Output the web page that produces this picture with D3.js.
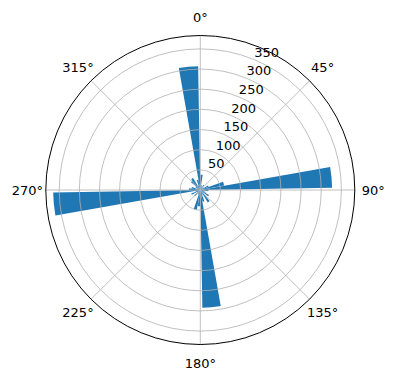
<!DOCTYPE html>
<html>
<head>
<meta charset="utf-8">
<script src="https://cdn.jsdelivr.net/npm/d3@7"></script>
<style>
  body { margin: 0; background: #fff; }
  svg { display: block; font-family: "DejaVu Sans", sans-serif; }
</style>
</head>
<body>
<div id="chart"></div>
<script>
// bin start angles (deg) and counts per bin
const binStart = [0, 10, 20, 30, 40, 50, 60, 70, 80, 90, 100, 110,
                  120, 130, 140, 150, 160, 170, 180, 190, 200, 210, 220, 230,
                  240, 250, 260, 270, 280, 290, 300, 310, 320, 330, 340, 350]
const counts = [38, 12, 8, 15, 6, 10, 22, 60, 327, 20, 8, 14,
                25, 10, 36, 12, 30, 292, 40, 50, 12, 8, 20, 10,
                24, 12, 365, 28, 22, 8, 14, 30, 35, 12, 26, 307]
const rTicks = [50, 100, 150, 200, 250, 300, 350]
const angleTicks = [0, 45, 90, 135, 180, 225, 270, 315]

const W = 396, H = 380
const cx = 200.3, cy = 190
const R = 154.5
const barWidth = 9 // degrees
const rad = d => d * Math.PI / 180

const r = d3.scaleLinear()
    .domain([0, d3.max(counts) * 1.05])
    .range([0, R])

const svg = d3.select('#chart').append('svg').attr('width', W).attr('height', H)
const g = svg.append('g').attr('transform', `translate(${cx},${cy})`)

const arc = d3.arc().innerRadius(0)

// bars
g.selectAll('path.bar')
  .data(counts)
  .join('path')
  .attr('class', 'bar')
  .attr('fill', '#1f77b4')
  .attr('d', (d, i) => arc({
    outerRadius: r(d),
    startAngle: rad(binStart[i]),
    endAngle: rad(binStart[i] + barWidth)
  }))

// grid
g.selectAll('circle.ring')
  .data(rTicks)
  .join('circle')
  .attr('r', d => r(d))
  .attr('fill', 'none')
  .attr('stroke', '#b0b0b0')
  .attr('stroke-width', 0.8)

g.selectAll('line.spoke')
  .data(angleTicks)
  .join('line')
  .attr('x1', 0).attr('y1', 0)
  .attr('x2', d => R * Math.sin(rad(d)))
  .attr('y2', d => -R * Math.cos(rad(d)))
  .attr('stroke', '#b0b0b0')
  .attr('stroke-width', 0.8)

// outer frame
g.append('circle')
  .attr('r', R)
  .attr('fill', 'none')
  .attr('stroke', '#000')
  .attr('stroke-width', 1)

// angle labels
g.selectAll('text.ang')
  .data(angleTicks)
  .join('text')
  .attr('x', d => 173 * Math.sin(rad(d)))
  .attr('y', d => -173 * Math.cos(rad(d)))
  .attr('text-anchor', 'middle')
  .attr('dominant-baseline', 'central')
  .attr('font-size', 13)
  .text(d => d + '°')

// radial labels at 22.5 deg
const labAng = rad(22.5)
g.selectAll('text.rl')
  .data(rTicks)
  .join('text')
  .attr('x', d => r(d) * Math.sin(labAng))
  .attr('y', d => -r(d) * Math.cos(labAng) - 3)
  .attr('text-anchor', 'start')
  .attr('font-size', 13)
  .text(d => d)
</script>
</body>
</html>
